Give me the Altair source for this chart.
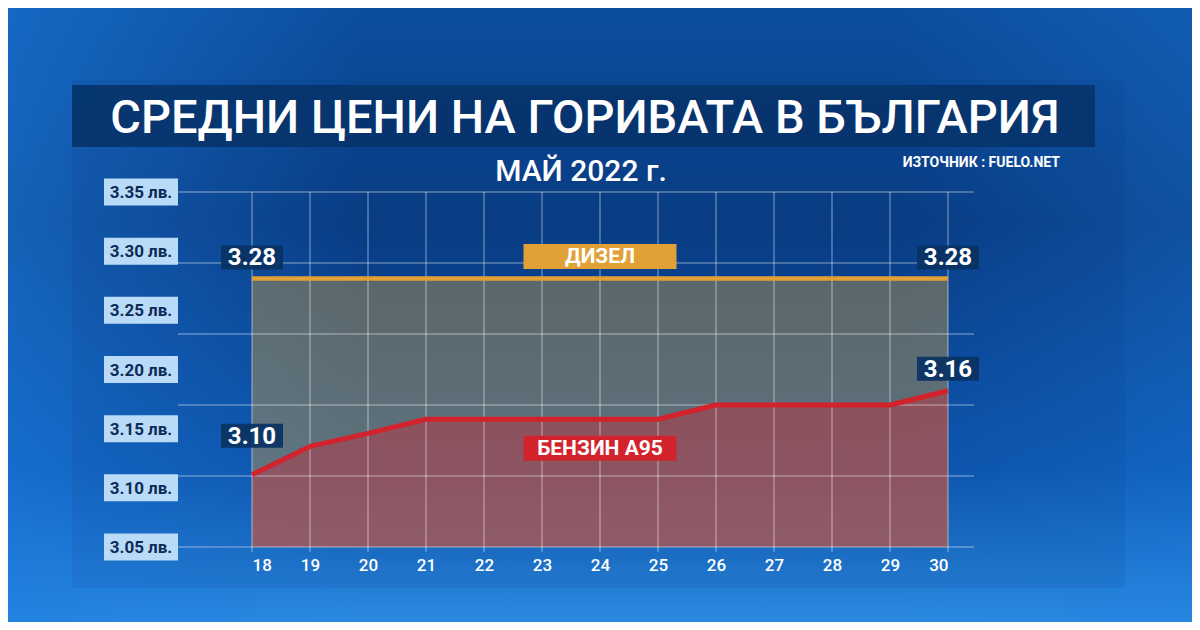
import altair as alt
import pandas as pd

# ---------------- data ----------------
days = [18, 19, 20, 21, 22, 23, 24, 25, 26, 27, 28, 29, 30]
diesel = [3.277, 3.277, 3.277, 3.277, 3.277, 3.277, 3.277, 3.277, 3.277, 3.277, 3.277, 3.277, 3.277]
benzin = [3.111, 3.135, 3.146, 3.158, 3.158, 3.158, 3.158, 3.158, 3.170, 3.170, 3.170, 3.170, 3.182]

y_tick_values = [3.05, 3.10, 3.15, 3.20, 3.25, 3.30, 3.35]
y_tick_labels = ["3.05 лв.", "3.10 лв.", "3.15 лв.", "3.20 лв.", "3.25 лв.", "3.30 лв.", "3.35 лв."]
grid_values = [3.05, 3.11, 3.17, 3.23, 3.29, 3.35]

series_names = ["ДИЗЕЛ", "БЕНЗИН А95"]
diesel_end_labels = ["3.28", "3.28"]
benzin_end_labels = ["3.10", "3.16"]

title_text = "СРЕДНИ ЦЕНИ НА ГОРИВАТА В БЪЛГАРИЯ"
subtitle_text = "МАЙ 2022 г."
source_text = "ИЗТОЧНИК : FUELO.NET"

# ---------------- styling ----------------
FONT = "Roboto"
NAVY = "#0a3262"
ORANGE = "#e2a136"
RED = "#d2232c"

df = pd.DataFrame({"day": days, "diesel": diesel, "benzin": benzin})
one = pd.DataFrame({"k": [0]})

xs = alt.Scale(domain=[18, 30], range=[74, 770])
ys = alt.Scale(domain=[3.05, 3.35], zero=False, nice=False)

xenc = alt.X("day:Q", scale=xs,
             axis=alt.Axis(values=days, format="d", grid=False, ticks=False, domain=False,
                           title=None, labelColor="white", labelFont=FONT, labelFontSize=17,
                           labelFontWeight=500, labelPadding=10, zindex=2))

def yenc(field):
    return alt.Y(f"{field}:Q", scale=ys, axis=None)

# background
bg = alt.Chart(one).mark_rect(
    fill=alt.Gradient(gradient="linear", x1=0, x2=0, y1=0, y2=1,
                      stops=[alt.GradientStop(color="#0b4e9e", offset=0),
                             alt.GradientStop(color="#093e85", offset=0.35),
                             alt.GradientStop(color="#0d58b2", offset=0.75),
                             alt.GradientStop(color="#2a8ae0", offset=1)])
).encode(x=alt.value(-170), x2=alt.value(1014), y=alt.value(-184), y2=alt.value(430))

bg2 = alt.Chart(one).mark_rect(
    fill=alt.Gradient(gradient="linear", x1=0, x2=1, y1=0, y2=0,
                      stops=[alt.GradientStop(color="rgba(30,125,225,0.55)", offset=0),
                             alt.GradientStop(color="rgba(30,125,225,0)", offset=0.3),
                             alt.GradientStop(color="rgba(30,125,225,0)", offset=0.75),
                             alt.GradientStop(color="rgba(30,125,225,0.3)", offset=1)])
).encode(x=alt.value(-170), x2=alt.value(1014), y=alt.value(-184), y2=alt.value(430))

panel = alt.Chart(one).mark_rect(fill="#06306a", opacity=0.09).encode(
    x=alt.value(-106), x2=alt.value(947), y=alt.value(-112), y2=alt.value(396))

title_box = alt.Chart(one).mark_rect(fill="#07336a", opacity=0.9).encode(
    x=alt.value(-106), x2=alt.value(917), y=alt.value(-107), y2=alt.value(-45))

title = alt.Chart(one).mark_text(text=title_text, font=FONT, fontSize=47, fontWeight=500,
                                 color="white", align="center", baseline="alphabetic").encode(
    x=alt.value(407), y=alt.value(-59))
subtitle = alt.Chart(one).mark_text(text=subtitle_text, font=FONT, fontSize=30, fontWeight=500,
                                    color="white", align="center", baseline="alphabetic").encode(
    x=alt.value(403), y=alt.value(-11))
source = alt.Chart(one).mark_text(text=source_text, font=FONT, fontSize=14, fontWeight="bold",
                                  color="white", align="right", baseline="alphabetic").encode(
    x=alt.value(882), y=alt.value(-25))

# areas
diesel_area = alt.Chart(df).mark_area(fill="#d8a03a", opacity=0.4).encode(
    x=xenc, y=yenc("diesel"), y2=alt.datum(3.05))
benzin_area = alt.Chart(df).mark_area(fill="#cc2c3a", opacity=0.42).encode(
    x=xenc, y=yenc("benzin"), y2=alt.datum(3.05))

# grid
hgrid = alt.Chart(pd.DataFrame({"g": grid_values})).mark_rule(
    color="white", opacity=0.35, strokeWidth=1.5).encode(
    y=yenc("g"), x=alt.value(0), x2=alt.value(796))
vgrid = alt.Chart(pd.DataFrame({"day": days})).mark_rule(
    color="white", opacity=0.35, strokeWidth=1.5).encode(
    x=xenc, y=alt.value(0), y2=alt.value(360))

# lines
diesel_line = alt.Chart(df).mark_line(color=ORANGE, strokeWidth=4.5, strokeCap="butt").encode(
    x=xenc, y=yenc("diesel"))
benzin_line = alt.Chart(df).mark_line(color=RED, strokeWidth=5, strokeJoin="round", strokeCap="butt").encode(
    x=xenc, y=yenc("benzin"))

# y tick boxes
ytick_df = pd.DataFrame({"v": y_tick_values, "t": y_tick_labels})
ybox = alt.Chart(ytick_df).mark_point(
    shape="M-1,-0.365H1V0.365H-1Z", size=74 * 74, filled=True, fill="#b9dbf8",
    opacity=1, strokeWidth=0).encode(x=alt.value(-37), y=yenc("v"))
ytext = alt.Chart(ytick_df).mark_text(
    font=FONT, fontSize=17, fontWeight="bold", color="#0c2c57", align="center",
    baseline="middle", yOffset=1).encode(x=alt.value(-37), y=yenc("v"), text="t:N")


def tag(day, value, text, dy, box_color, w, h, fsize, box_opacity=1.0):
    d = pd.DataFrame({"day": [day], "v": [value], "t": [text]})
    r = h / w
    box = alt.Chart(d).mark_point(
        shape=f"M-1,-{r:.4f}H1V{r:.4f}H-1Z", size=w * w, filled=True, fill=box_color,
        opacity=box_opacity, strokeWidth=0, yOffset=dy).encode(x=xenc, y=yenc("v"))
    txt = alt.Chart(d).mark_text(
        font=FONT, fontSize=fsize, fontWeight="bold", color="white", align="center",
        baseline="middle", yOffset=dy + 1).encode(x=xenc, y=yenc("v"), text="t:N")
    return [box, txt]


tags = []
tags += tag(days[0], diesel[0], diesel_end_labels[0], -21, NAVY, 62, 24, 24, 0.92)
tags += tag(days[-1], diesel[-1], diesel_end_labels[1], -21, NAVY, 62, 24, 24, 0.92)
tags += tag(days[0], benzin[0], benzin_end_labels[0], -39, NAVY, 62, 24, 24, 0.92)
tags += tag(days[-1], benzin[-1], benzin_end_labels[1], -22, NAVY, 62, 24, 24, 0.92)
tags += tag(days[6], diesel[6], series_names[0], -22, ORANGE, 153, 25, 21)
tags += tag(days[6], benzin[6], series_names[1], 29, RED, 153, 25, 21)

chart = alt.layer(
    bg, bg2, panel, title_box, title, subtitle, source,
    diesel_area, benzin_area, hgrid, vgrid, diesel_line, benzin_line,
    ybox, ytext, *tags
).properties(
    width=796, height=355,
    padding={"left": 170, "top": 184, "right": 218, "bottom": 75},
    autosize=alt.AutoSizeParams(type="none"),
    background="#0b4a98"
).configure_view(stroke=None)

chart.save("out.html", embed_options={"renderer": "svg", "actions": False})
